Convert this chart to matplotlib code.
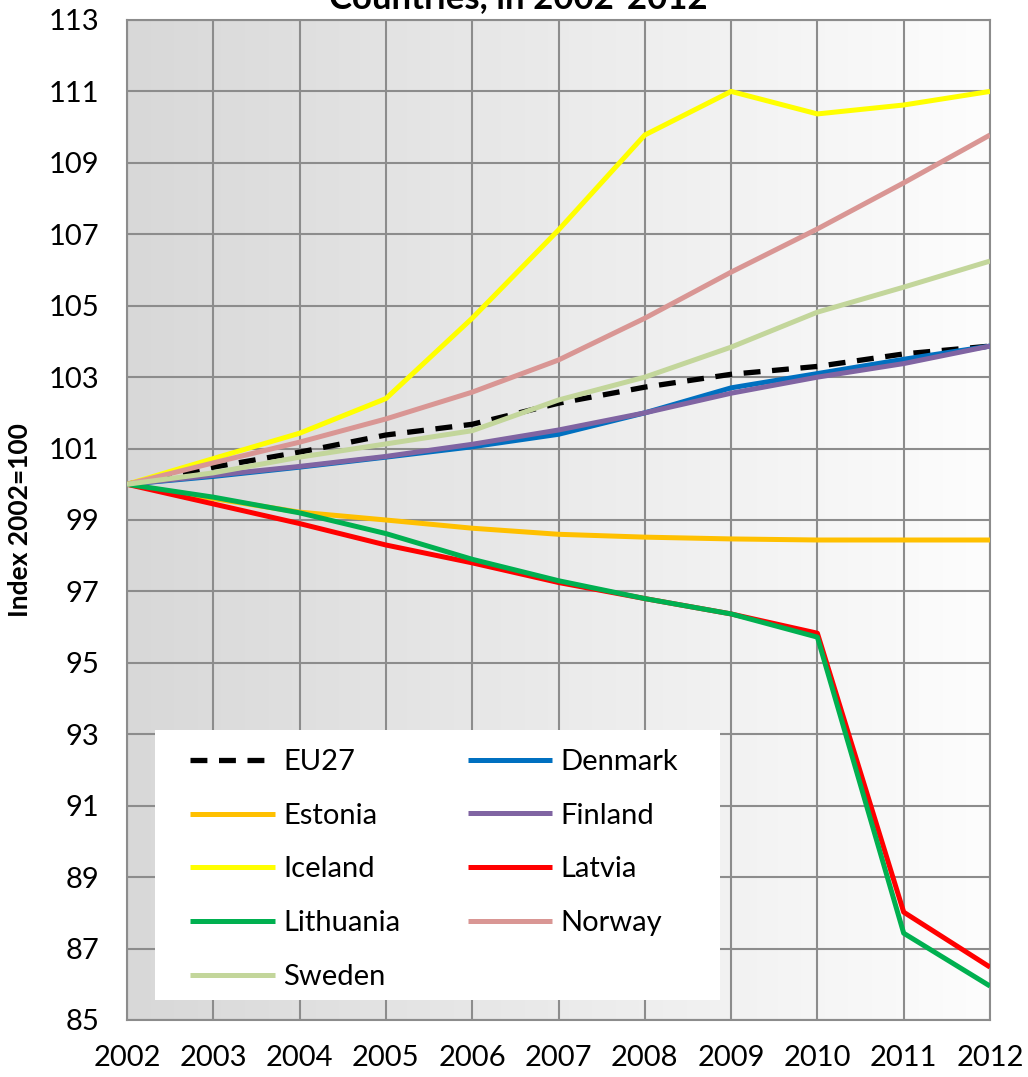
import matplotlib.pyplot as plt
import numpy as np
from matplotlib.colors import LinearSegmentedColormap
from matplotlib.patches import Rectangle

plt.rcParams['font.family'] = ['Lato', 'DejaVu Sans']

years = [2002, 2003, 2004, 2005, 2006, 2007, 2008, 2009, 2010, 2011, 2012]

eu27 = [100, 100.48, 100.9, 101.38, 101.68, 102.27, 102.72, 103.08, 103.3, 103.65, 103.87]
denmark = [100, 100.22, 100.48, 100.76, 101.05, 101.4, 102.0, 102.7, 103.1, 103.5, 103.87]
estonia = [100, 99.6, 99.22, 99.0, 98.77, 98.6, 98.52, 98.47, 98.44, 98.44, 98.44]
finland = [100, 100.25, 100.5, 100.78, 101.12, 101.52, 102.0, 102.55, 103.0, 103.38, 103.87]
iceland = [100, 100.72, 101.43, 102.4, 104.65, 107.12, 109.78, 111.0, 110.37, 110.62, 111.0]
latvia = [100, 99.45, 98.9, 98.3, 97.8, 97.25, 96.8, 96.37, 95.83, 88.02, 86.48]
lithuania = [100, 99.64, 99.2, 98.62, 97.9, 97.3, 96.8, 96.37, 95.72, 87.43, 85.95]
norway = [100, 100.6, 101.18, 101.83, 102.58, 103.48, 104.65, 105.94, 107.15, 108.44, 109.78]
sweden = [100, 100.32, 100.76, 101.13, 101.5, 102.36, 103.0, 103.84, 104.82, 105.52, 106.25]

series = [
    ("EU27", eu27, "black"),
    ("Denmark", denmark, "#0070C0"),
    ("Estonia", estonia, "#FFC000"),
    ("Finland", finland, "#8064A2"),
    ("Iceland", iceland, "#FFFF00"),
    ("Latvia", latvia, "#FF0000"),
    ("Lithuania", lithuania, "#00B050"),
    ("Norway", norway, "#D99694"),
    ("Sweden", sweden, "#C3D69B"),
]
legend_order = ["EU27", "Estonia", "Iceland", "Lithuania", "Sweden",
                "Denmark", "Finland", "Latvia", "Norway"]

fig = plt.figure(figsize=(10.28, 10.77), dpi=100)
ax = fig.add_axes([127 / 1028, 1 - 1020 / 1077, 863 / 1028, 1000 / 1077])

# gradient background, grey on the left to white on the right
grad = np.linspace(0, 1, 256).reshape(1, -1)
bg = LinearSegmentedColormap.from_list("bg", ["#d8d8d8", "#fdfdfd"])
ax.imshow(grad, extent=[0, 1, 0, 1], transform=ax.transAxes, aspect="auto",
          cmap=bg, zorder=0)

lines = {}
for name, vals, color in series:
    if name == "EU27":
        ln, = ax.plot(years, vals, color=color, lw=3.8, ls=(0, (3.2, 2.2)),
                      zorder=3, label=name)
    else:
        ln, = ax.plot(years, vals, color=color, lw=3.6, zorder=3, label=name,
                      solid_capstyle="butt")
    lines[name] = ln

ax.set_xlim(2002, 2012)
ax.set_ylim(85, 113)
ax.set_xticks(years)
ax.set_yticks(np.arange(85, 114, 2))
ax.tick_params(axis="both", labelsize=21, length=0)
ax.tick_params(axis="y", pad=20)
ax.tick_params(axis="x", pad=18)
ax.grid(True, color="#8c8c8c", lw=1.5, zorder=1)
ax.set_axisbelow(False)
for s in ax.spines.values():
    s.set_color("#8c8c8c")
    s.set_linewidth(1.5)

fig.text(20 / 1028, 1 - 520 / 1077, "Index 2002=100", rotation=90,
         fontsize=19, fontweight="bold", ha="center", va="center")
fig.text(518 / 1028, 1 - 8 / 1077, "Countries, in 2002-2012", fontsize=25,
         fontweight="bold", ha="center", va="baseline")

# white legend box, legend itself drawn frameless inside it
ax.add_patch(Rectangle((0.032, 0.02), 0.655, 0.27, transform=ax.transAxes,
                       facecolor="white", edgecolor="none", zorder=4))
leg = ax.legend([lines[n] for n in legend_order], legend_order, ncol=2,
                loc="upper left", bbox_to_anchor=(0.073, 0.271), fontsize=21,
                frameon=False, handlelength=2.9, handletextpad=0.3,
                labelspacing=0.95, columnspacing=2.3, borderpad=0,
                borderaxespad=0)
leg.set_zorder(5)

fig.savefig("out.png", dpi=100)
